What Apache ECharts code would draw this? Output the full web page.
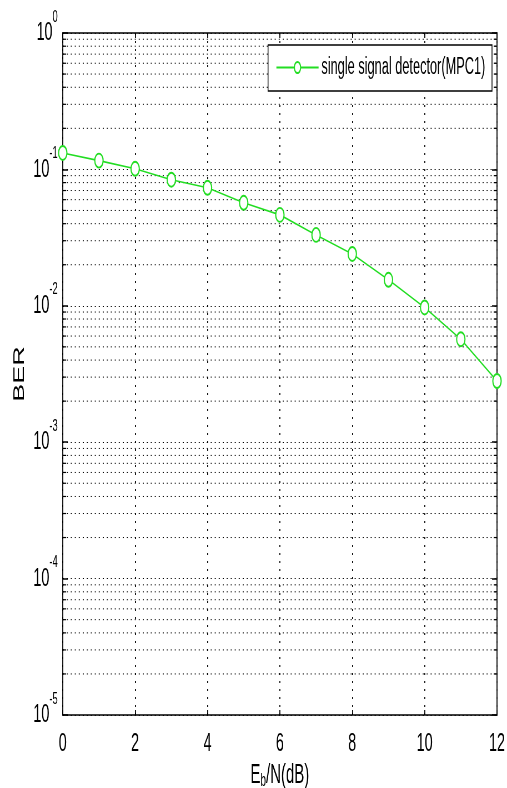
<!DOCTYPE html>
<html>
<head>
<meta charset="utf-8">
<script src="https://cdn.jsdelivr.net/npm/echarts@6/dist/echarts.min.js"></script>
<style>
html,body{margin:0;padding:0;background:#fff;overflow:hidden;width:507px;height:788px;}
#chart{position:absolute;left:0;top:0;width:913px;height:788px;transform:scaleX(0.5553);transform-origin:0 0;}
</style>
</head>
<body>
<div id="chart"></div>
<script>
// Data
const ebn0 = [0, 1, 2, 3, 4, 5, 6, 7, 8, 9, 10, 11, 12];
const ber = [0.132, 0.116, 0.101, 0.084, 0.0733, 0.0569, 0.0464, 0.0331, 0.0240, 0.0155, 0.00972, 0.00569, 0.00281];
const seriesName = 'single signal detector(MPC1)';
const xTickValues = [0, 2, 4, 6, 8, 10, 12];
const yDecadeExponents = [0, -1, -2, -3, -4, -5];
const yMinorMultipliers = [2, 3, 4, 5, 6, 7, 8, 9];

const chart = echarts.init(document.getElementById('chart'), null, {renderer: 'canvas'});

// minor grid positions of the log axis (2..9 x 10^e)
const minorGrid = [];
for (const e of yDecadeExponents) {
  if (e === 0) continue;
  for (const m of yMinorMultipliers) minorGrid.push([xTickValues[0], m * Math.pow(10, e)]);
}

const hDot = [2, 5.2];
const vDot = [2, 6];
const green = '#22dd22';

const option = {
  animation: false,
  backgroundColor: '#fff',
  textStyle: {fontFamily: 'Liberation Sans, Arial, sans-serif', color: '#000'},
  grid: {left: 113, right: 18, top: 33, bottom: 73, show: false, containLabel: false, outerBoundsMode: 'none'},
  legend: {
    right: 27, top: 45,
    backgroundColor: '#fff',
    borderColor: '#000', borderWidth: 1.5,
    padding: [11, 12, 12, 14],
    itemWidth: 76, itemHeight: 14,
    textStyle: {fontSize: 23, color: '#000'},
    data: [seriesName]
  },
  xAxis: [{
    type: 'value', min: xTickValues[0], max: xTickValues[xTickValues.length - 1], interval: 2,
    position: 'bottom',
    name: '{e|E}{s|b}{e|/N(dB)}', nameLocation: 'middle', nameGap: 45,
    nameTextStyle: {rich: {e: {fontSize: 27, color: '#000', lineHeight: 30}, s: {fontSize: 18, color: '#000', verticalAlign: 'bottom', lineHeight: 22}}},
    axisLine: {show: true, onZero: false, lineStyle: {color: '#000', width: 1.5}},
    axisTick: {show: true, inside: true, length: 5, lineStyle: {color: '#000', width: 1.8}},
    axisLabel: {fontSize: 26, color: '#000', margin: 16},
    splitLine: {show: true, lineStyle: {color: '#000', type: vDot, width: 1.8}}
  }, {
    type: 'value', min: xTickValues[0], max: xTickValues[xTickValues.length - 1], interval: 2,
    position: 'top',
    axisLine: {show: true, onZero: false, lineStyle: {color: '#000', width: 1.5}},
    axisTick: {show: true, inside: true, length: 5, lineStyle: {color: '#000', width: 1.8}},
    axisLabel: {show: false},
    splitLine: {show: false}
  }],
  yAxis: [{
    type: 'log', logBase: 10, min: 1e-5, max: 1,
    position: 'left',
    name: 'BER', nameLocation: 'middle', nameGap: 58,
    nameTextStyle: {fontSize: 27, color: '#000'},
    axisLine: {show: true, onZero: false, lineStyle: {color: '#000', width: 1.8}},
    axisTick: {show: true, inside: true, length: 9, lineStyle: {color: '#000', width: 1.5}},
    minorTick: {show: false},
    axisLabel: {
      margin: 9,
      formatter: function (v) {
        const e = Math.round(Math.log10(v));
        return '{b|10}{s|' + e + '}';
      },
      rich: {
        b: {fontSize: 26, color: '#000', lineHeight: 56},
        s: {fontSize: 17, color: '#000', lineHeight: 17, padding: [0, 0, 32, 0]}
      }
    },
    splitLine: {show: true, lineStyle: {color: '#000', type: hDot, width: 1}}
  }, {
    type: 'log', logBase: 10, min: 1e-5, max: 1,
    position: 'right',
    axisLine: {show: true, onZero: false, lineStyle: {color: '#000', width: 1.8}},
    axisTick: {show: true, inside: true, length: 9, lineStyle: {color: '#000', width: 1.5}},
    axisLabel: {show: false},
    splitLine: {show: false}
  }],
  series: [{
    type: 'custom',
    xAxisIndex: 0, yAxisIndex: 0,
    silent: true,
    z: 1,
    data: minorGrid,
    encode: {x: 0, y: 1},
    renderItem: function (params, api) {
      const cs = params.coordSys;
      const y = api.coord([api.value(0), api.value(1)])[1];
      const x1 = cs.x, x2 = cs.x + cs.width;
      return {
        type: 'group',
        children: [
          {type: 'line', shape: {x1: x1, y1: y, x2: x2, y2: y}, style: {stroke: '#000', lineWidth: 1, lineDash: hDot}},
          {type: 'line', shape: {x1: x1, y1: y, x2: x1 + 6, y2: y}, style: {stroke: '#000', lineWidth: 1.2}},
          {type: 'line', shape: {x1: x2 - 6, y1: y, x2: x2, y2: y}, style: {stroke: '#000', lineWidth: 1.2}}
        ]
      };
    }
  }, {
    name: seriesName,
    type: 'line',
    xAxisIndex: 0, yAxisIndex: 0,
    data: ebn0.map((x, i) => [x, ber[i]]),
    symbol: 'emptyCircle',
    symbolSize: [15, 14],
    showAllSymbol: true,
    lineStyle: {color: green, width: 1.6},
    itemStyle: {color: green, borderColor: green, borderWidth: 1.8},
    z: 5
  }]
};
chart.setOption(option);
</script>
</body>
</html>
